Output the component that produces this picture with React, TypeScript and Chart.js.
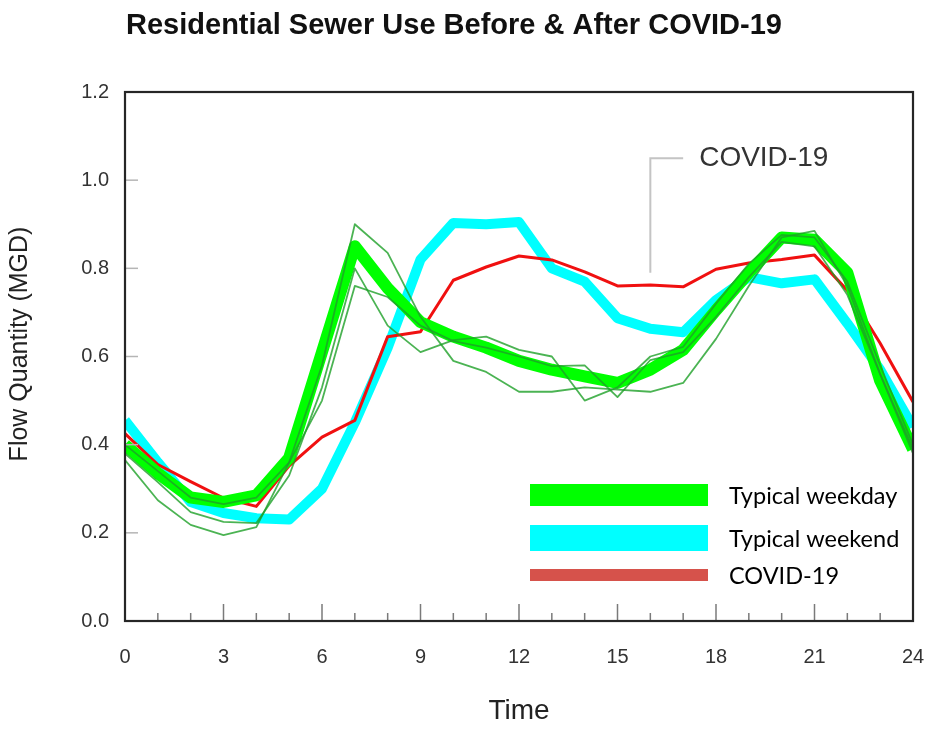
import { useEffect, useRef } from 'react';
import { Chart, registerables } from 'chart.js';

Chart.register(...registerables);

// ---- Data ----
const HOURS = [0, 1, 2, 3, 4, 5, 6, 7, 8, 9, 10, 11, 12, 13, 14, 15, 16, 17, 18, 19, 20, 21, 22, 23, 24];

const TYPICAL_WEEKDAY = [0.40, 0.335, 0.28, 0.27, 0.285, 0.37, 0.61, 0.85, 0.755, 0.678, 0.645, 0.62, 0.59, 0.57, 0.555, 0.54, 0.57, 0.615, 0.705, 0.79, 0.87, 0.865, 0.79, 0.545, 0.39];
const TYPICAL_WEEKEND = [0.455, 0.36, 0.27, 0.245, 0.233, 0.23, 0.30, 0.45, 0.62, 0.82, 0.903, 0.90, 0.905, 0.80, 0.77, 0.687, 0.663, 0.655, 0.728, 0.78, 0.766, 0.775, 0.675, 0.57, 0.44];
const COVID_19 = [0.425, 0.355, 0.316, 0.279, 0.26, 0.352, 0.417, 0.455, 0.645, 0.656, 0.773, 0.803, 0.828, 0.819, 0.792, 0.76, 0.762, 0.758, 0.798, 0.812, 0.82, 0.83, 0.75, 0.63, 0.497];

const WEEKDAY_SAMPLE_A = [0.40, 0.34, 0.28, 0.265, 0.28, 0.36, 0.58, 0.90, 0.835, 0.69, 0.59, 0.565, 0.52, 0.52, 0.53, 0.525, 0.52, 0.54, 0.64, 0.76, 0.87, 0.885, 0.76, 0.56, 0.38];
const WEEKDAY_SAMPLE_B = [0.38, 0.315, 0.247, 0.225, 0.222, 0.33, 0.53, 0.80, 0.67, 0.61, 0.637, 0.645, 0.615, 0.60, 0.50, 0.53, 0.60, 0.622, 0.72, 0.81, 0.876, 0.87, 0.77, 0.58, 0.40];
const WEEKDAY_SAMPLE_C = [0.365, 0.274, 0.218, 0.195, 0.213, 0.36, 0.50, 0.76, 0.735, 0.67, 0.635, 0.62, 0.60, 0.578, 0.58, 0.508, 0.592, 0.61, 0.69, 0.78, 0.86, 0.85, 0.74, 0.56, 0.39];

const X_MIN = 0;
const X_MAX = 24;
const X_STEP = 3;
const Y_MIN = 0;
const Y_MAX = 1.2;
const Y_STEP = 0.2;

const TITLE = 'Residential Sewer Use Before & After COVID-19';
const X_TITLE = 'Time';
const Y_TITLE = 'Flow Quantity (MGD)';

const ANNOTATION_TEXT = 'COVID-19';
const ANNOTATION_X = 16;
const ANNOTATION_X_END = 17;
const ANNOTATION_Y_LOW = 0.79;
const ANNOTATION_Y_HIGH = 1.05;

const LEGEND_LABELS = ['Typical weekday', 'Typical weekend', 'COVID-19'];
const LEGEND_COLORS = ['#00ff00', '#00ffff', '#d6524b'];

const SANS = 'Arial, "Liberation Sans", sans-serif';

const toPoints = (vals: number[]) => HOURS.map((h, i) => ({ x: h, y: vals[i] }));

const overlayPlugin = {
  id: 'overlay',
  afterDatasetsDraw(chart: any) {
    const { ctx, chartArea: a, scales } = chart;
    const x = scales.x;
    const y = scales.y;
    ctx.save();

    // inward x ticks: minor each hour, major each 3 hours
    ctx.strokeStyle = '#7a7a7a';
    ctx.lineWidth = 1.5;
    for (let h = X_MIN + 1; h < X_MAX; h++) {
      const px = x.getPixelForValue(h);
      const len = h % X_STEP === 0 ? 17 : 8;
      ctx.beginPath();
      ctx.moveTo(px, a.bottom);
      ctx.lineTo(px, a.bottom - len);
      ctx.stroke();
    }
    // inward y ticks
    ctx.strokeStyle = '#b5b5b5';
    for (let i = 1; i < Math.round((Y_MAX - Y_MIN) / Y_STEP); i++) {
      const py = y.getPixelForValue(Y_MIN + i * Y_STEP);
      ctx.beginPath();
      ctx.moveTo(a.left, py);
      ctx.lineTo(a.left + 13, py);
      ctx.stroke();
    }

    // frame
    ctx.strokeStyle = '#262626';
    ctx.lineWidth = 2.2;
    ctx.strokeRect(a.left, a.top, a.right - a.left, a.bottom - a.top);

    // annotation callout
    const ax = x.getPixelForValue(ANNOTATION_X);
    const ax2 = x.getPixelForValue(ANNOTATION_X_END);
    const ayLow = y.getPixelForValue(ANNOTATION_Y_LOW);
    const ayHigh = y.getPixelForValue(ANNOTATION_Y_HIGH);
    ctx.strokeStyle = '#c4c4c4';
    ctx.lineWidth = 2;
    ctx.beginPath();
    ctx.moveTo(ax, ayLow);
    ctx.lineTo(ax, ayHigh);
    ctx.lineTo(ax2, ayHigh);
    ctx.stroke();
    ctx.fillStyle = '#333';
    ctx.font = '28px ' + SANS;
    ctx.textAlign = 'left';
    ctx.textBaseline = 'middle';
    ctx.fillText(ANNOTATION_TEXT, ax2 + 16, ayHigh);

    // legend
    const legendRows = [
      { top: 484, h: 22 },
      { top: 525, h: 26 },
      { top: 569, h: 12 },
    ];
    LEGEND_LABELS.forEach((label, i) => {
      const r = legendRows[i];
      ctx.fillStyle = LEGEND_COLORS[i];
      ctx.fillRect(530, r.top, 178, r.h);
      ctx.fillStyle = '#000';
      ctx.font = '23.5px Lato, "Open Sans", sans-serif';
      ctx.textAlign = 'left';
      ctx.textBaseline = 'middle';
      ctx.fillText(label, 729, r.top + r.h / 2 + 1);
    });

    // titles
    ctx.fillStyle = '#111';
    ctx.font = 'bold 29px ' + SANS;
    ctx.textAlign = 'center';
    ctx.textBaseline = 'middle';
    ctx.fillText(TITLE, 454, 26);

    ctx.fillStyle = '#222';
    ctx.font = '28px ' + SANS;
    ctx.fillText(X_TITLE, (a.left + a.right) / 2, 711);

    ctx.save();
    ctx.translate(20, 344);
    ctx.rotate(-Math.PI / 2);
    ctx.font = '25px ' + SANS;
    ctx.fillText(Y_TITLE, 0, 0);
    ctx.restore();

    ctx.restore();
  },
};

export default function App() {
  const canvasRef = useRef<HTMLCanvasElement | null>(null);

  useEffect(() => {
    if (!canvasRef.current) return;
    const thin = (vals: number[]) => ({
      data: toPoints(vals),
      borderColor: 'rgba(30,160,40,0.8)',
      borderWidth: 1.8,
      pointRadius: 0,
      tension: 0,
      order: 0,
      borderJoinStyle: 'round' as const,
    });
    const chart = new Chart(canvasRef.current, {
      type: 'line',
      data: {
        datasets: [
          thin(WEEKDAY_SAMPLE_A),
          thin(WEEKDAY_SAMPLE_B),
          thin(WEEKDAY_SAMPLE_C),
          {
            label: LEGEND_LABELS[0],
            data: toPoints(TYPICAL_WEEKDAY),
            borderColor: '#00ff00',
            borderWidth: 12,
            pointRadius: 0,
            order: 1,
            borderJoinStyle: 'round',
          },
          {
            label: LEGEND_LABELS[2],
            data: toPoints(COVID_19),
            borderColor: '#f01010',
            borderWidth: 3,
            pointRadius: 0,
            order: 2,
            borderJoinStyle: 'round',
          },
          {
            label: LEGEND_LABELS[1],
            data: toPoints(TYPICAL_WEEKEND),
            borderColor: '#00ffff',
            borderWidth: 10,
            pointRadius: 0,
            order: 3,
            borderJoinStyle: 'round',
          },
        ],
      },
      options: {
        responsive: false,
        animation: false,
        layout: { padding: { top: 92, right: 21, left: 0, bottom: 0 } },
        plugins: {
          legend: { display: false },
          title: { display: false },
          tooltip: { enabled: false },
        },
        scales: {
          x: {
            type: 'linear',
            min: X_MIN,
            max: X_MAX,
            grid: { display: false, drawTicks: false },
            border: { display: false },
            ticks: {
              stepSize: X_STEP,
              padding: 24,
              color: '#333',
              font: { family: SANS, size: 20 },
            },
            afterFit(scale: any) {
              scale.height = 115;
              scale.paddingLeft = 0;
              scale.paddingRight = 0;
            },
          },
          y: {
            type: 'linear',
            min: Y_MIN,
            max: Y_MAX,
            grid: { display: false, drawTicks: false },
            border: { display: false },
            ticks: {
              stepSize: Y_STEP,
              padding: 16,
              color: '#333',
              font: { family: SANS, size: 20 },
              callback: (v: any) => Number(v).toFixed(1),
            },
            afterFit(scale: any) {
              scale.width = 125;
              scale.paddingTop = 0;
              scale.paddingBottom = 0;
            },
          },
        },
      },
      plugins: [overlayPlugin],
    });
    return () => chart.destroy();
  }, []);

  return (
    <div style={{ position: 'absolute', left: 0, top: 0, width: 934, height: 736, background: '#fff' }}>
      <canvas ref={canvasRef} width={934} height={736} style={{ display: 'block' }} />
    </div>
  );
}
